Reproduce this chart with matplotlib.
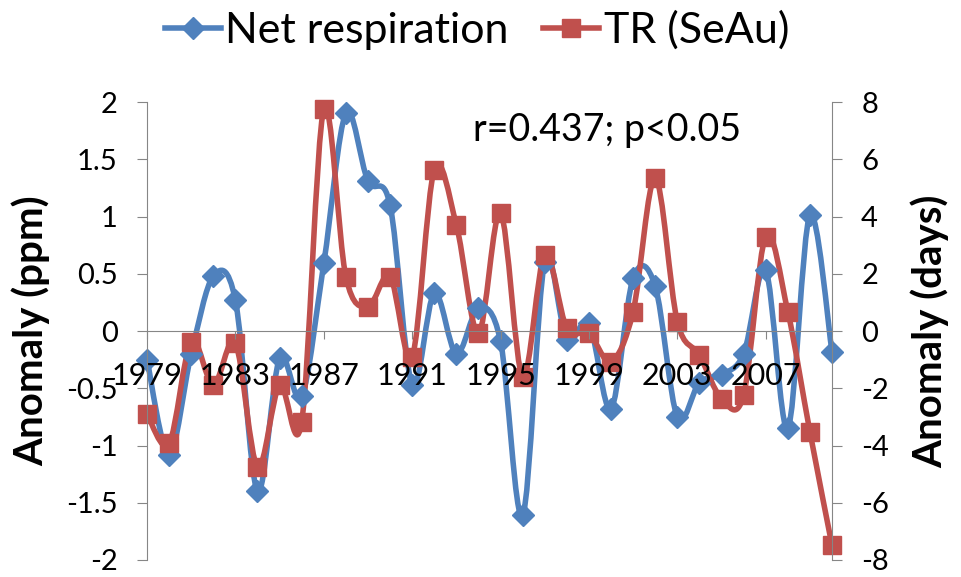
import numpy as np
import matplotlib
matplotlib.use("Agg")
import matplotlib.pyplot as plt
from matplotlib.path import Path
from matplotlib.patches import PathPatch
from matplotlib.lines import Line2D

years = list(range(1979, 2011))
net_resp = [-0.25, -1.08, -0.2, 0.48, 0.27, -1.4, -0.24, -0.57, 0.59, 1.9, 1.31, 1.1,
            -0.47, 0.33, -0.2, 0.2, -0.09, -1.61, 0.6, -0.08, 0.07, -0.68, 0.46, 0.39,
            -0.75, -0.45, -0.38, -0.2, 0.53, -0.85, 1.01, -0.18]
tr_seau = [-2.9, -3.93, -0.37, -1.89, -0.43, -4.75, -1.89, -3.17, 7.74, 1.9, 0.85, 1.9,
           -0.9, 5.63, 3.71, -0.08, 4.12, -1.6, 2.66, 0.09, -0.08, -1.07, 0.68, 5.34,
           0.33, -0.84, -2.36, -2.24, 3.3, 0.68, -3.52, -7.49]
left_ticks = [-2, -1.5, -1, -0.5, 0, 0.5, 1, 1.5, 2]
left_labels = ["-2", "-1.5", "-1", "-0.5", "0", "0.5", "1", "1.5", "2"]
right_ticks = [-8, -6, -4, -2, 0, 2, 4, 6, 8]
year_ticks = years[::4]

BLUE = "#4F81BD"
RED = "#C0504D"
GRAY = "#868686"
plt.rcParams["font.family"] = ["Lato", "DejaVu Sans"]


def smooth_path(x, y):
    # excel-like smoothed line: bezier segments through every point
    x = np.asarray(x, float)
    y = np.asarray(y, float)
    n = len(x)
    verts = [(x[0], y[0])]
    codes = [Path.MOVETO]
    for i in range(n - 1):
        a = max(i - 1, 0)
        b = min(i + 2, n - 1)
        c1 = (x[i] + (x[i + 1] - x[a]) / 6, y[i] + (y[i + 1] - y[a]) / 6)
        c2 = (x[i + 1] - (x[b] - x[i]) / 6, y[i + 1] - (y[b] - y[i]) / 6)
        verts += [c1, c2, (x[i + 1], y[i + 1])]
        codes += [Path.CURVE4] * 3
    return Path(verts, codes)


fig = plt.figure(figsize=(9.61, 5.77), dpi=100)
ax = fig.add_axes([147 / 961, 1 - 560 / 577, 685 / 961, 458 / 577])
ax2 = ax.twinx()
# series live on ax2 (below), ax on top carries the year labels
ax.set_zorder(2)
ax.patch.set_visible(False)

ax.set_xlim(1979, 2010)
ax.set_ylim(-2, 2)
ax2.set_ylim(-8, 8)

ax2.add_patch(PathPatch(smooth_path(years, net_resp), fc="none", ec=BLUE, lw=4,
                        capstyle="round", joinstyle="round", clip_on=False,
                        transform=ax.transData))
ax2.plot(years, net_resp, ls="none", marker="D", ms=11, color=BLUE, clip_on=False,
         transform=ax.transData)
ax2.add_patch(PathPatch(smooth_path(years, tr_seau), fc="none", ec=RED, lw=4,
                        capstyle="round", joinstyle="round", clip_on=False))
ax2.plot(years, tr_seau, ls="none", marker="s", ms=13, color=RED, clip_on=False)

for a in (ax, ax2):
    for s in a.spines.values():
        s.set_visible(False)
ax.spines["left"].set_visible(True)
ax.spines["left"].set_color(GRAY)
ax.spines["bottom"].set_visible(True)
ax.spines["bottom"].set_color(GRAY)
ax.spines["bottom"].set_position(("data", 0))
ax2.spines["right"].set_visible(True)
ax2.spines["right"].set_color(GRAY)

ax.set_yticks(left_ticks, left_labels)
ax2.set_yticks(right_ticks, [str(t) for t in right_ticks])
ax.set_xticks(year_ticks, [str(y) for y in year_ticks])
ax.tick_params(axis="y", direction="out", length=7, color=GRAY, labelsize=21, pad=14)
ax2.tick_params(axis="y", direction="out", length=7, color=GRAY, labelsize=21, pad=14)
ax.tick_params(axis="x", direction="out", length=6, color=GRAY, labelsize=22, pad=16)

ax.set_ylabel("Anomaly (ppm)", fontsize=29, fontweight="bold")
ax.yaxis.set_label_coords(-0.1416, 0.5)
ax2.set_ylabel("Anomaly (days)", fontsize=29, fontweight="bold")
ax2.yaxis.set_label_coords(1.114, 0.5)

ax.text(0.672, 0.939, "r=0.437; p<0.05", transform=ax.transAxes, ha="center",
        va="center", fontsize=27)

handles = [Line2D([], [], color=BLUE, lw=4, marker="D", ms=11),
           Line2D([], [], color=RED, lw=4, marker="s", ms=13)]
fig.legend(handles, ["Net respiration", "TR (SeAu)"], loc="center",
           bbox_to_anchor=(477 / 961, 1 - 30 / 577), ncol=2, frameon=False,
           fontsize=31, handlelength=1.3, handletextpad=0.1, columnspacing=0.8,
           borderpad=0.1)

fig.savefig("out.png", dpi=100)
